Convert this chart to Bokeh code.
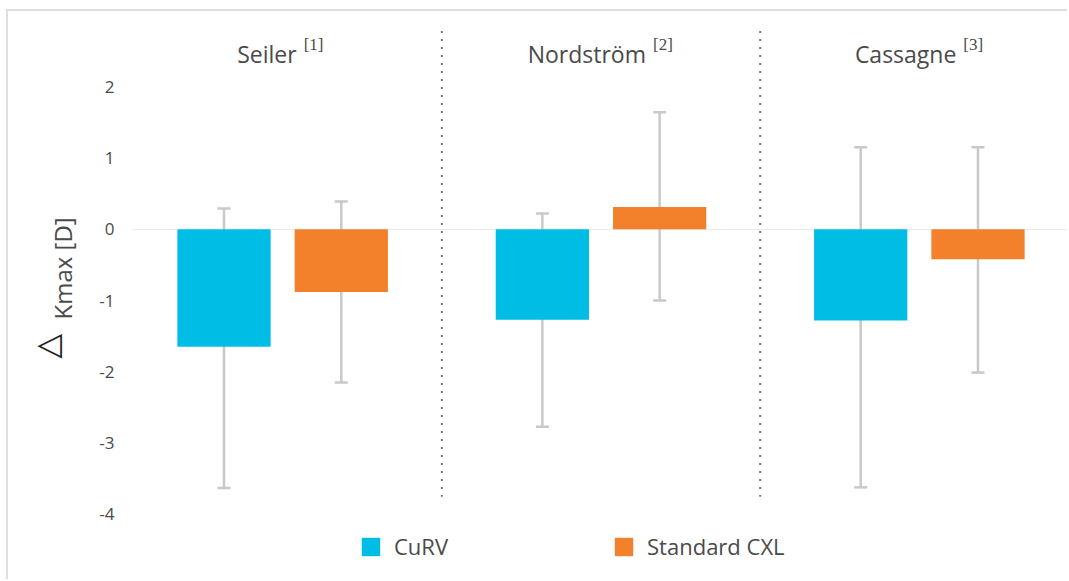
from bokeh.plotting import figure
from bokeh.models import (FactorRange, Range1d, Whisker, ColumnDataSource, Legend,
                          LegendItem, FixedTicker, TeeHead, Title)
from bokeh.embed import file_html
from bokeh.resources import INLINE

# ---- data ----
studies = ["Seiler", "Nordström", "Cassagne"]
refs = ["[1]", "[2]", "[3]"]
series = ["CuRV", "Standard CXL"]
curv_mean = [-1.65, -1.27, -1.28]
curv_lower = [-3.63, -2.77, -3.62]
curv_upper = [0.29, 0.22, 1.15]
cxl_mean = [-0.88, 0.31, -0.42]
cxl_lower = [-2.15, -1.00, -2.01]
cxl_upper = [0.39, 1.64, 1.15]
y_ticks = [-4, -3, -2, -1, 0, 1, 2]
y_label_delta = "△"
y_label_text = "Kmax [D]"

# ---- styling ----
colors = {"CuRV": "#00BDE6", "Standard CXL": "#F3812B"}
FONT = "Open Sans"
TEXT = "#4a4a4a"
GP = 0.714
Y_BOTTOM, Y_TOP = -4.94, 2.8
title_shift = [14, 45, 37]   # px, junction between name and reference mark

factors = [(s, k) for s in studies for k in series]
x_range = FactorRange(*factors, group_padding=GP, range_padding=0.28,
                      range_padding_units="absolute")

p = figure(width=1061, height=570, x_range=x_range, y_range=Range1d(Y_BOTTOM, Y_TOP),
           output_backend="svg", toolbar_location=None,
           min_border_left=124, min_border_right=0, min_border_top=18, min_border_bottom=0)
p.title.visible = False
p.outline_line_color = None
p.background_fill_color = "white"
p.border_fill_color = "white"
p.styles = {"margin-left": "6px", "margin-top": "9px",
            "border-left": "2px solid #dedede", "border-top": "2px solid #dedede"}

p.xaxis.visible = False
p.xgrid.visible = False
p.ygrid.ticker = FixedTicker(ticks=[0])
p.ygrid.grid_line_color = "#ebebeb"
p.ygrid.grid_line_width = 1

ax = p.yaxis[0]
ax.ticker = FixedTicker(ticks=y_ticks)
ax.major_label_overrides = {t: str(t) for t in y_ticks}
ax.axis_line_color = None
ax.major_tick_line_color = None
ax.minor_tick_line_color = None
ax.major_label_standoff = 12
ax.major_label_text_font = FONT
ax.major_label_text_font_size = "17px"
ax.major_label_text_color = TEXT

p.add_layout(Title(text=y_label_text, align="left", offset=262, standoff=36,
                   text_font=FONT, text_font_size="24px", text_font_style="normal",
                   text_color=TEXT), "left")
p.add_layout(Title(text=y_label_delta, align="left", offset=223, standoff=-80,
                   text_font="DejaVu Sans", text_font_size="32px", text_font_style="normal",
                   text_color="#222222"), "left")

# ---- whiskers (behind bars) ----
sources = {}
for name, mean, lo, up in [("CuRV", curv_mean, curv_lower, curv_upper),
                           ("Standard CXL", cxl_mean, cxl_lower, cxl_upper)]:
    src = ColumnDataSource(dict(x=[(s, name) for s in studies], mean=mean, lower=lo, upper=up))
    sources[name] = src
    w = Whisker(base="x", upper="upper", lower="lower", source=src,
                line_color="#c9c9c9", line_width=2.5, level="underlay",
                upper_head=TeeHead(size=13, line_color="#c9c9c9", line_width=2.5),
                lower_head=TeeHead(size=13, line_color="#c9c9c9", line_width=2.5))
    p.add_layout(w)

renderers = {}
for name in series:
    renderers[name] = p.vbar(x="x", top="mean", bottom=0, width=0.795, source=sources[name],
                             fill_color=colors[name], line_color=None)

# ---- dotted separators between studies ----
sep_x = [(studies[i], "Standard CXL", 0.5 + GP / 2) for i in range(len(studies) - 1)]
p.segment(x0=sep_x, x1=sep_x, y0=2.78, y1=-3.75, line_color="#777777",
          line_width=2, line_dash="2 6")

# ---- study titles ----
tsrc = ColumnDataSource(dict(x=studies, name=studies, ref=refs,
                             dx=title_shift, dx2=[d + 7 for d in title_shift]))
p.text(x="x", y=Y_TOP, text="name", source=tsrc, x_offset="dx", y_offset=24,
       text_align="right", text_baseline="alphabetic", text_font={"value": FONT},
       text_font_size="23px", text_color=TEXT)
p.text(x="x", y=Y_TOP, text="ref", source=tsrc, x_offset="dx2", y_offset=15,
       text_align="left", text_baseline="alphabetic", text_font={"value": "Liberation Serif"},
       text_font_size="17px", text_color=TEXT)

# ---- legend ----
legend = Legend(items=[LegendItem(label=n, renderers=[renderers[n]]) for n in series],
                orientation="horizontal", location=(227, 20), glyph_width=23, glyph_height=23,
                label_standoff=12, spacing=164, padding=5, margin=0,
                border_line_color=None, background_fill_alpha=0,
                label_text_font=FONT, label_text_font_size="22px",
                label_text_color=TEXT, label_height=23)
p.add_layout(legend)

open("out.html", "w").write(file_html(p, INLINE))
